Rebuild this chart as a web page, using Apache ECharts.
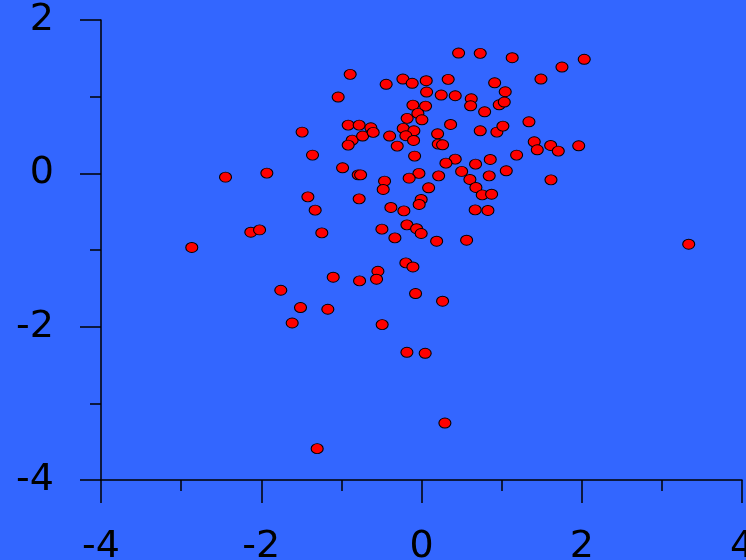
<!DOCTYPE html>
<html>
<head>
<meta charset="utf-8">
<script src="https://cdn.jsdelivr.net/npm/echarts@6/dist/echarts.min.js"></script>
<style>
html,body{margin:0;padding:0;background:#3366FF;}
#chart{width:746px;height:560px;}
</style>
</head>
<body>
<div id="chart"></div>
<script>
const xValues = [-2.867,-2.446,-1.930,-2.130,-2.021,-1.490,-1.360,-1.418,-1.327,-1.244,
-1.756,-1.510,-1.614,-1.169,-1.302,-1.102,-1.040,-0.890,-0.985,-0.915,
-0.865,-0.915,-0.778,-0.735,-0.632,-0.603,-0.790,-0.760,-0.778,-0.773,
-0.544,-0.561,-0.494,-0.441,-0.461,-0.478,-0.382,-0.332,-0.491,-0.398,
-0.303,-0.232,-0.116,0.059,0.333,0.463,0.733,1.132,2.031,1.753,
1.491,0.913,1.045,0.064,0.246,0.421,0.621,0.613,0.788,0.970,
1.033,-0.107,0.051,-0.045,0.005,-0.179,0.363,1.341,0.733,0.941,
1.016,-0.228,-0.095,-0.195,-0.099,0.201,0.209,0.263,1.407,1.445,
1.612,1.707,1.962,-0.086,1.187,0.421,0.305,0.858,0.675,0.501,
1.058,1.616,-0.032,-0.154,0.214,0.845,0.604,0.089,0.679,0.758,
0.875,-0.004,-0.029,-0.220,0.670,0.829,-0.182,-0.061,-0.004,0.189,
0.563,3.335,-0.195,-0.107,-0.074,0.263,-0.182,0.046,0.292];
const yValues = [-0.967,-0.050,0.003,-0.768,-0.738,0.538,0.238,-0.307,-0.480,-0.777,
-1.525,-1.751,-1.952,-1.773,-3.591,-1.355,0.995,1.291,0.072,0.629,
0.433,0.368,0.629,0.486,0.594,0.534,-0.020,-0.020,-0.333,-1.403,
-1.277,-1.381,-0.728,1.161,-0.102,-0.210,-0.445,-0.842,-1.973,0.486,
0.355,1.230,1.174,1.208,1.226,1.569,1.565,1.508,1.487,1.386,
1.230,1.181,1.064,1.060,1.021,1.012,0.973,0.881,0.803,0.894,
0.930,0.890,0.877,0.782,0.698,0.717,0.638,0.672,0.555,0.538,
0.616,0.586,0.555,0.490,0.429,0.516,0.381,0.372,0.411,0.307,
0.364,0.290,0.359,0.225,0.238,0.185,0.133,0.181,0.120,0.025,
0.033,-0.085,-0.001,-0.063,-0.033,-0.033,-0.080,-0.189,-0.184,-0.281,
-0.272,-0.341,-0.406,-0.490,-0.477,-0.484,-0.672,-0.722,-0.785,-0.885,
-0.872,-0.924,-1.168,-1.221,-1.568,-1.668,-2.334,-2.347,-3.257];
const xTicks = [-4, 4, 2];  // min, max, interval
const yTicks = [-4, 2, 2];

const points = xValues.map((x, i) => [x, yValues[i]]);
const chart = echarts.init(document.getElementById('chart'));
const labelFont = {color:'#000', fontSize:38, fontFamily:'DejaVu Sans'};
chart.setOption({
  backgroundColor:'#3366FF',
  animation:false,
  grid:{left:101, right:4, top:20, bottom:80, containLabel:false, outerBoundsMode:'none'},
  xAxis:{
    type:'value', min:xTicks[0], max:xTicks[1], interval:xTicks[2],
    axisLine:{show:true, onZero:false, lineStyle:{color:'#000', width:1.5}},
    axisTick:{show:true, inside:false, length:23, lineStyle:{color:'#000', width:1.5}},
    minorTick:{show:true, splitNumber:2, length:11, lineStyle:{color:'#000', width:1.5}},
    splitLine:{show:false},
    axisLabel:Object.assign({margin:48, hideOverlap:false}, labelFont)
  },
  yAxis:{
    type:'value', min:yTicks[0], max:yTicks[1], interval:yTicks[2],
    axisLine:{show:true, onZero:false, lineStyle:{color:'#000', width:1.5}},
    axisTick:{show:true, inside:false, length:21, lineStyle:{color:'#000', width:1.5}},
    minorTick:{show:true, splitNumber:2, length:11, lineStyle:{color:'#000', width:1.5}},
    splitLine:{show:false},
    axisLabel:Object.assign({margin:47, hideOverlap:false}, labelFont)
  },
  series:[{
    type:'scatter',
    data:points,
    symbol:'circle',
    symbolSize:[12,10],
    itemStyle:{color:'#FF0000', borderColor:'#000', borderWidth:1, opacity:1}
  }]
});
</script>
</body>
</html>
